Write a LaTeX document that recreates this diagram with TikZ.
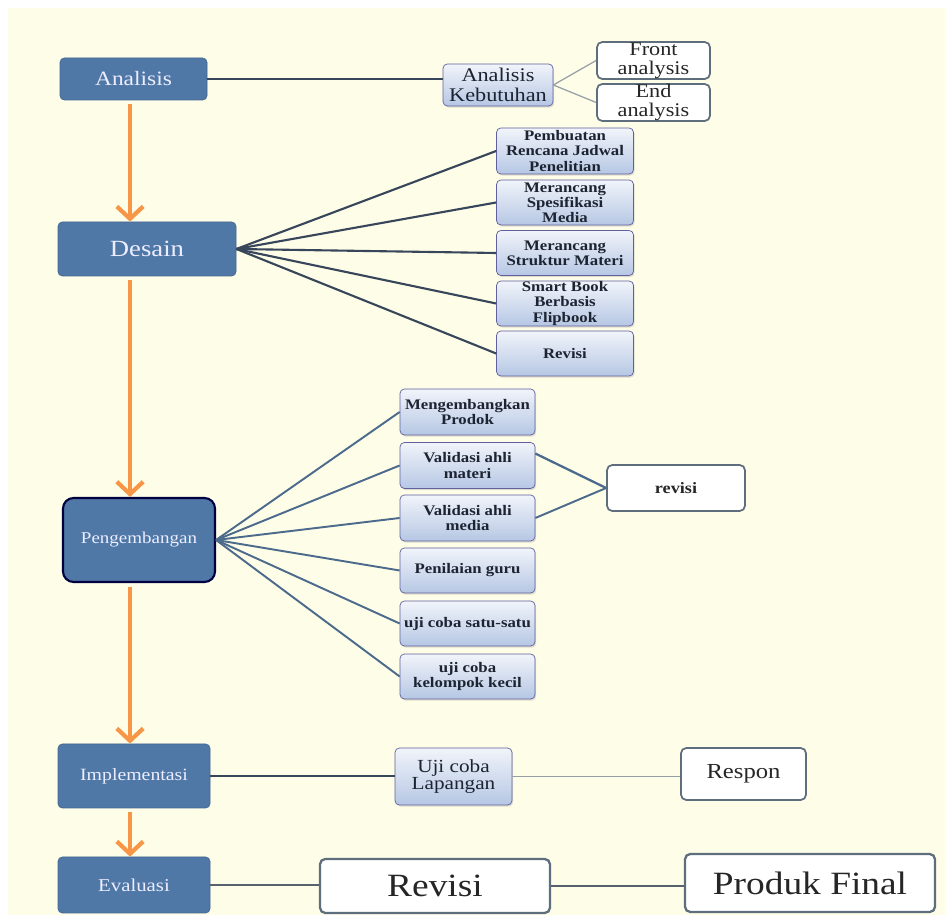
\documentclass[tikz,border=0pt]{standalone}
\usepackage{fontspec}
\setmainfont{Liberation Serif}[FakeStretch=1.15]
\usepackage{xcolor}
\usepackage{tikz}
\usetikzlibrary{arrows.meta,shadows}
\definecolor{cream}{RGB}{254,253,232}
\definecolor{phasefill}{RGB}{79,120,167}
\definecolor{phaseedge}{RGB}{66,101,145}
\definecolor{linkdark}{RGB}{55,70,90}
\definecolor{linkblue}{RGB}{76,106,140}
\definecolor{linkgray}{RGB}{150,158,166}
\definecolor{linkslate}{RGB}{88,98,110}
\definecolor{boxedge}{RGB}{95,110,125}
\definecolor{floworange}{RGB}{247,150,70}
\definecolor{inkdark}{RGB}{28,36,50}
\definecolor{paleblue}{RGB}{241,244,250}
\definecolor{midblue}{RGB}{182,199,228}
\tikzset{
  every node/.append style={inner sep=0pt, align=center},
  phase/.style={draw=phaseedge, fill=phasefill, rounded corners=2.5pt, text=white!93!blue},
  task/.style={draw=gray!75!blue, top color=paleblue, bottom color=midblue, rounded corners=2.5pt,
    text=inkdark, drop shadow={opacity=0.25, shadow xshift=0.7pt, shadow yshift=-0.9pt}},
  outcome/.style={draw=boxedge, fill=white, line width=1pt, rounded corners=3pt, text=black!85},
  flow/.style={->, floworange, line width=2.4pt, shorten <=2pt},
  tasktext/.style={font=\fontsize{8.3}{8.6}\selectfont\bfseries}
}

\begin{document}
\begin{tikzpicture}[>={Straight Barb[length=7pt,width=15pt]}]
    \useasboundingbox (0,0) rectangle (18.9,18.3);
    \fill[cream] (0.16,0) rectangle (18.9,18.14);
    \coordinate (spine) at (2.6,0);

    \node[phase, minimum width=2.94cm, minimum height=0.84cm, font=\fontsize{11.6}{12}\selectfont] (analisis) at (2.67,16.72) {Analisis};
    \node[task, minimum width=2.2cm, minimum height=0.84cm, font=\fontsize{11}{11.2}\selectfont] (kebutuhan) at (9.96,16.6) {Analisis\\Kebutuhan};
    \node[outcome, minimum width=2.26cm, minimum height=0.74cm, font=\fontsize{11}{10.6}\selectfont] (front) at (13.07,17.09) {Front\\analysis};
    \node[outcome, minimum width=2.26cm, minimum height=0.74cm, font=\fontsize{11}{10.6}\selectfont] (end) at (13.07,16.25) {End\\analysis};

    \node[phase, minimum width=3.56cm, minimum height=1.08cm, font=\fontsize{13.2}{14}\selectfont] (desain) at (2.94,13.32) {Desain};
    \node[task, tasktext, minimum width=2.74cm, minimum height=0.92cm] (jadwal) at (11.3,15.28) {Pembuatan\\Rencana Jadwal\\Penelitian};
    \node[task, tasktext, minimum width=2.74cm, minimum height=0.9cm] (spesifikasi) at (11.3,14.25) {Merancang\\Spesifikasi\\Media};
    \node[task, tasktext, minimum width=2.74cm, minimum height=0.9cm] (struktur) at (11.3,13.24) {Merancang\\Struktur Materi};
    \node[task, tasktext, minimum width=2.74cm, minimum height=0.9cm] (smartbook) at (11.3,12.23) {Smart Book\\Berbasis\\Flipbook};
    \node[task, tasktext, minimum width=2.74cm, minimum height=0.9cm] (revdesain) at (11.3,11.23) {Revisi};

    \node[phase, draw=black!75!blue, line width=1.2pt, rounded corners=6pt, minimum width=3.04cm, minimum height=1.68cm,
      font=\fontsize{9.4}{10}\selectfont] (pengembangan) at (2.78,7.5) {Pengembangan};
    \node[task, tasktext, minimum width=2.7cm, minimum height=0.92cm] (produk) at (9.35,10.06) {Mengembangkan\\Prodok};
    \node[task, tasktext, minimum width=2.7cm, minimum height=0.92cm] (valmateri) at (9.35,8.99) {Validasi ahli\\materi};
    \node[task, tasktext, minimum width=2.7cm, minimum height=0.92cm] (valmedia) at (9.35,7.94) {Validasi ahli\\media};
    \node[task, tasktext, minimum width=2.7cm, minimum height=0.9cm] (guru) at (9.35,6.89) {Penilaian guru};
    \node[task, tasktext, minimum width=2.7cm, minimum height=0.9cm] (satu) at (9.35,5.83) {uji coba satu-satu};
    \node[task, tasktext, minimum width=2.7cm, minimum height=0.9cm] (kelompok) at (9.35,4.77) {uji coba\\kelompok kecil};
    \node[outcome, minimum width=2.76cm, minimum height=0.92cm, font=\fontsize{9}{10}\selectfont\bfseries] (revisi) at (13.52,8.54) {revisi};

    \node[phase, minimum width=3.04cm, minimum height=1.28cm, font=\fontsize{9.8}{10}\selectfont] (implementasi) at (2.68,2.78) {Implementasi};
    \node[task, minimum width=2.34cm, minimum height=1.14cm, font=\fontsize{10.5}{10}\selectfont] (lapangan) at (9.07,2.77) {Uji coba\\Lapangan};
    \node[outcome, minimum width=2.5cm, minimum height=1.04cm, font=\fontsize{12.2}{13}\selectfont] (respon) at (14.87,2.82) {Respon};

    \node[phase, minimum width=3.04cm, minimum height=1.12cm, font=\fontsize{10.3}{11}\selectfont] (evaluasi) at (2.68,0.6) {Evaluasi};
    \node[outcome, line width=1.3pt, minimum width=4.6cm, minimum height=1.08cm, font=\fontsize{18.5}{20}\selectfont] (revfinal) at (8.7,0.58) {Revisi};
    \node[outcome, line width=1.3pt, minimum width=5cm, minimum height=1.16cm, font=\fontsize{18.5}{20}\selectfont] (final) at (16.2,0.64) {Produk Final};

    \draw[flow] (spine |- analisis.south) -- (spine |- desain.north);
    \draw[flow] (spine |- desain.south) -- (spine |- pengembangan.north);
    \draw[flow] (spine |- pengembangan.south) -- (spine |- implementasi.north);
    \draw[flow] (spine |- implementasi.south) -- (spine |- evaluasi.north);

    \draw[linkdark, line width=1.3pt] (analisis.east) -- (analisis.east -| kebutuhan.west);
    \draw[linkgray, line width=0.7pt] (kebutuhan.east) -- (front.west);
    \draw[linkgray, line width=0.7pt] (kebutuhan.east) -- (end.west);
    \foreach \t in {jadwal,spesifikasi,struktur,smartbook,revdesain}
        \draw[linkdark, line width=1.2pt] (desain.east) -- (\t.west);
    \foreach \t in {produk,valmateri,valmedia,guru,satu,kelompok}
        \draw[linkblue, line width=1.1pt] (pengembangan.east) -- (\t.west);
    \draw[linkblue, line width=1.3pt] (valmateri.10) -- (revisi.west);
    \draw[linkblue, line width=1.1pt] (valmedia.east) -- (revisi.west);
    \draw[linkdark, line width=1.3pt] (implementasi.east) -- (implementasi.east -| lapangan.west);
    \draw[linkgray, line width=0.7pt] (lapangan.east) -- (lapangan.east -| respon.west);
    \draw[linkslate, line width=1.7pt] (evaluasi.east) -- (evaluasi.east -| revfinal.west);
    \draw[linkslate, line width=1.7pt] (revfinal.east) -- (revfinal.east -| final.west);
\end{tikzpicture}
\end{document}
